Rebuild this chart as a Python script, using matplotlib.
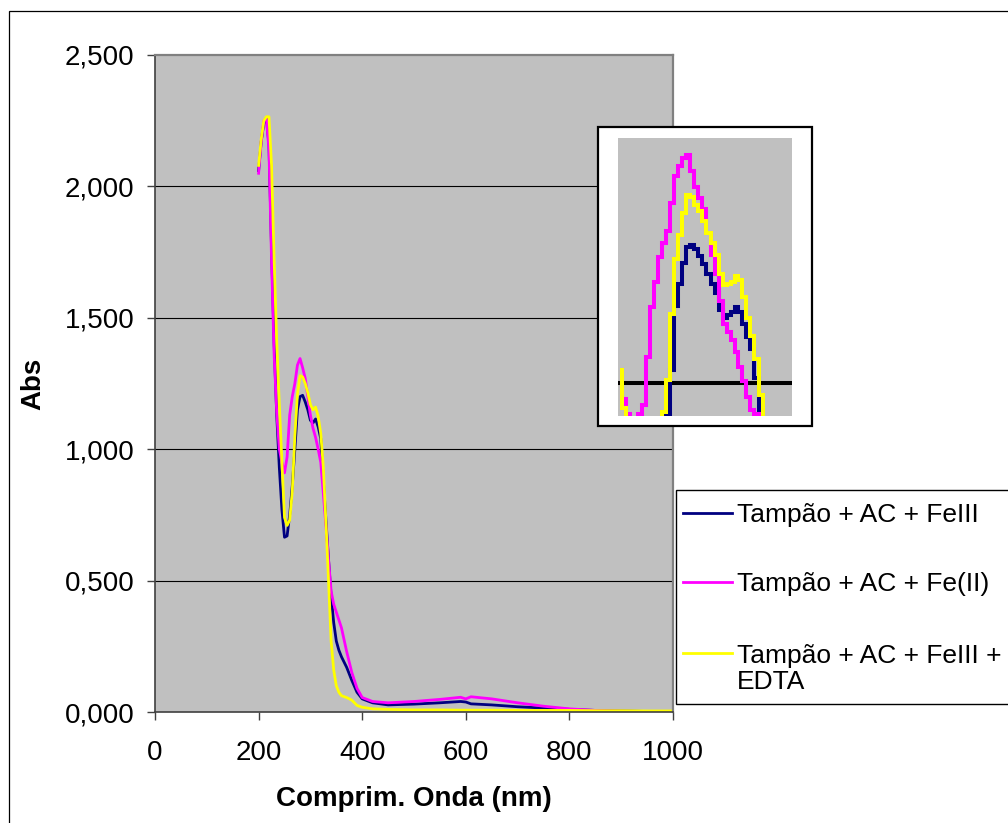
import numpy as np
import matplotlib
matplotlib.use("Agg")
import matplotlib.pyplot as plt
from matplotlib.patches import Rectangle
from matplotlib.lines import Line2D
from matplotlib.ticker import FuncFormatter

plt.rcParams["font.family"] = ["Liberation Sans", "DejaVu Sans"]

W, H = 1008, 823

# --- data ---
wavelength = [200, 205, 210, 215, 220, 225, 230, 235, 240, 245, 250, 255, 260, 265,
              270, 275, 280, 285, 290, 295, 300, 305, 310, 315, 320, 325, 330, 335,
              340, 345, 350, 355, 360, 370, 380, 390, 400, 420, 450, 500, 550, 590,
              600, 610, 650, 700, 750, 800, 850, 900, 950, 1000]

abs_fe3 = [2.06, 2.17, 2.24, 2.26, 2.16, 1.76, 1.40, 1.13, 0.93, 0.77, 0.665, 0.67, 0.75, 0.86,
           1.00, 1.15, 1.20, 1.205, 1.18, 1.15, 1.11, 1.10, 1.115, 1.085, 1.04, 0.88, 0.73, 0.58,
           0.44, 0.34, 0.27, 0.235, 0.21, 0.17, 0.12, 0.075, 0.05, 0.035, 0.027, 0.03, 0.035, 0.04,
           0.038, 0.031, 0.027, 0.02, 0.015, 0.01, 0.006, 0.004, 0.002, 0.001]

abs_fe2 = [2.05, 2.17, 2.25, 2.26, 2.14, 1.72, 1.36, 1.14, 1.00, 0.95, 0.91, 0.97, 1.13, 1.20,
           1.25, 1.32, 1.345, 1.31, 1.27, 1.20, 1.13, 1.08, 1.045, 1.00, 0.95, 0.83, 0.71, 0.58,
           0.46, 0.41, 0.38, 0.35, 0.32, 0.23, 0.15, 0.09, 0.055, 0.04, 0.035, 0.04, 0.048, 0.056,
           0.05, 0.058, 0.05, 0.035, 0.022, 0.012, 0.006, 0.003, 0.002, 0.001]

abs_fe3_edta = [2.08, 2.18, 2.25, 2.265, 2.265, 2.08, 1.72, 1.41, 1.17, 0.95, 0.74, 0.71, 0.73, 0.84,
                1.05, 1.21, 1.28, 1.275, 1.25, 1.215, 1.17, 1.15, 1.16, 1.125, 1.06, 0.93, 0.72, 0.50,
                0.27, 0.16, 0.10, 0.075, 0.062, 0.055, 0.045, 0.025, 0.018, 0.012, 0.01, 0.008, 0.008, 0.007,
                0.007, 0.007, 0.007, 0.006, 0.006, 0.006, 0.005, 0.005, 0.004, 0.004]

labels = ["Tampão + AC + FeIII", "Tampão + AC + Fe(II)", "Tampão + AC + FeIII +\nEDTA"]
colors = ["#000080", "#FF00FF", "#FFFF00"]

# zoomed (pixelated) detail shown in the inset
inset_wl = [239.9, 242.3, 244.7, 247.1, 249.5, 251.9, 254.4, 256.8, 259.2, 261.6, 264.0, 266.4,
            268.8, 271.2, 273.6, 276.1, 278.5, 280.9, 283.3, 285.7, 288.1, 290.5, 293.0, 295.4,
            297.8, 300.2, 302.6, 305.0, 307.4, 309.8, 312.2, 314.6, 317.0, 319.4, 321.8, 324.3, 326.7]
inset_fe3 = [0.93, 0.93, 0.93, 0.93, 0.93, 0.93, 0.93, 0.93, 0.93, 0.93, 0.93, 0.93,
             0.953, 1.019, 1.117, 1.151, 1.183, 1.206, 1.209, 1.203, 1.193, 1.181, 1.166, 1.151,
             1.136, 1.111, 1.098, 1.103, 1.108, 1.115, 1.108, 1.089, 1.069, 1.051, 1.008, 0.93, 0.93]
inset_fe2 = [1.02, 0.975, 0.953, 0.93, 0.93, 0.953, 0.966, 1.04, 1.116, 1.154, 1.192, 1.213,
             1.231, 1.274, 1.314, 1.33, 1.342, 1.347, 1.323, 1.298, 1.281, 1.264, 1.228, 1.194,
             1.166, 1.124, 1.09, 1.078, 1.065, 1.047, 1.024, 1.003, 0.979, 0.959, 0.953, 0.93, 0.93]
inset_fe3_edta = [1.019, 0.961, 0.93, 0.93, 0.93, 0.93, 0.93, 0.93, 0.93, 0.93, 0.93, 0.955,
                  1.004, 1.105, 1.188, 1.225, 1.259, 1.285, 1.282, 1.27, 1.262, 1.246, 1.228, 1.213,
                  1.194, 1.166, 1.149, 1.151, 1.154, 1.163, 1.157, 1.13, 1.098, 1.071, 1.037, 0.982, 0.93]

yticks = [0.0, 0.5, 1.0, 1.5, 2.0, 2.5]
xticks = [0, 200, 400, 600, 800, 1000]


def box(x0, y0, x1, y1):
    # pixel box (y from top) -> figure fraction [left, bottom, width, height]
    return [x0 / W, 1 - y1 / H, (x1 - x0) / W, (y1 - y0) / H]


def px(x, y):
    return x / W, 1 - y / H


fig = plt.figure(figsize=(W / 100, H / 100), dpi=100)

# chart area border (runs off the right/bottom edges)
fig.add_artist(Rectangle(px(9, 1100), 1100 / W, (1100 - 11) / H, transform=fig.transFigure,
                         fill=False, edgecolor="black", lw=0.9, zorder=0.5))

ax = fig.add_axes(box(155, 55, 673, 712))
ax.set_facecolor("#C0C0C0")
ax.set_xlim(0, 1000)
ax.set_ylim(0, 2.5)
ax.set_xticks(xticks)
ax.set_yticks(yticks)
ax.yaxis.set_major_formatter(FuncFormatter(lambda v, p: f"{v:.3f}".replace(".", ",")))
ax.tick_params(direction="out", length=6, width=1, color="#404040", labelsize=20)
ax.tick_params(axis="y", pad=9)
ax.tick_params(axis="x", pad=14)
for y in yticks[1:-1]:
    ax.axhline(y, color="black", lw=0.8, zorder=1)

for s in ["top", "right"]:
    ax.spines[s].set_color("#808080")
    ax.spines[s].set_linewidth(1.6)
for s in ["left", "bottom"]:
    ax.spines[s].set_color("#404040")
    ax.spines[s].set_linewidth(1.2)

for vals, c in zip([abs_fe3, abs_fe2, abs_fe3_edta], colors):
    ax.plot(wavelength, vals, color=c, lw=2.0, zorder=2)

ax.set_xlabel("Comprim. Onda (nm)", fontsize=20, fontweight="bold")
ax.xaxis.set_label_coords(0.5, -0.112)
ax.set_ylabel("Abs", fontsize=20, fontweight="bold", va="center")
ax.yaxis.set_label_coords(-0.235, 0.5)

# inset with the zoomed peak region
fig.add_artist(Rectangle(px(597.5, 426.5), (811.5 - 597.5) / W, (426.5 - 127.5) / H,
                         transform=fig.transFigure, facecolor="white", edgecolor="black",
                         lw=1.6, zorder=2))
axi = fig.add_axes(box(618.3, 138.3, 791.7, 415.7))
axi.set_zorder(3)
axi.set_facecolor("#C0C0C0")
axi.set_xlim(238.7, 343.0)
axi.set_ylim(0.95, 1.372)
axi.set_xticks([])
axi.set_yticks([])
for s in axi.spines.values():
    s.set_visible(False)
axi.axhline(1.0, color="black", lw=2.9, zorder=1)
for vals, c in zip([inset_fe3, inset_fe2, inset_fe3_edta], colors):
    axi.plot(inset_wl, vals, color=c, lw=2.9, drawstyle="steps-mid",
             solid_joinstyle="miter", solid_capstyle="butt", zorder=2)

# legend box (cut off by the right edge like the original)
fig.add_artist(Rectangle(px(676, 704), (1100 - 676) / W, (704 - 490) / H,
                         transform=fig.transFigure, facecolor="white", edgecolor="black",
                         lw=1.0, zorder=2))
entry_y = [513, 582, 653]
line_step = 27
for lab, c, yy in zip(labels, colors, entry_y):
    fig.add_artist(Line2D([683 / W, 732 / W], [1 - yy / H, 1 - yy / H], color=c, lw=2.0,
                          transform=fig.transFigure, zorder=3))
    # baseline of the last line of the label
    base = yy + 9 + line_step * lab.count("\n")
    fig.text(737 / W, 1 - base / H, lab, fontsize=19, va="baseline", ha="left",
             linespacing=1.1, zorder=3)

fig.savefig("out.png", dpi=100)
